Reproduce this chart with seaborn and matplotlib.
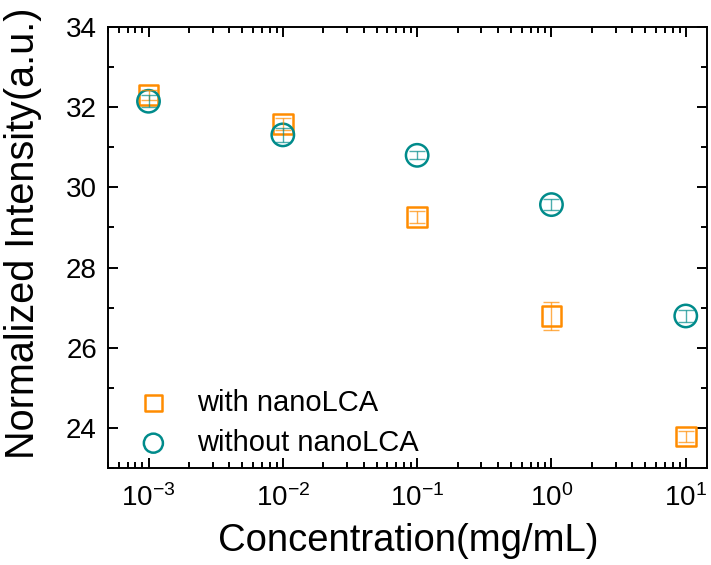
import numpy as np
import pandas as pd
import matplotlib
matplotlib.use("Agg")
import matplotlib.pyplot as plt
import seaborn as sns
from matplotlib.ticker import LogLocator, MultipleLocator, NullFormatter, FuncFormatter

conc = [1e-3, 1e-2, 1e-1, 1e0, 1e1]
with_vals = [32.30, 31.58, 29.26, 26.79, 23.78]
with_err = [0.12, 0.15, 0.14, 0.34, 0.14]
without_vals = [32.15, 31.31, 30.80, 29.57, 26.79]
without_err = [0.15, 0.17, 0.10, 0.14, 0.14]
labels = ["with nanoLCA", "without nanoLCA"]
colors = ["#FF8C00", "#008B8B"]
markers = ["s", "o"]
sizes = [200, 260]

sns.set_style("ticks")
plt.rcParams['font.family'] = ['Liberation Sans', 'DejaVu Sans']
plt.rcParams['mathtext.fontset'] = 'custom'
plt.rcParams['mathtext.rm'] = 'Liberation Sans'
plt.rcParams['mathtext.it'] = 'Liberation Sans'
plt.rcParams['mathtext.default'] = 'regular'
plt.rcParams['text.color'] = 'black'
plt.rcParams['axes.labelcolor'] = 'black'
plt.rcParams['xtick.color'] = 'black'
plt.rcParams['ytick.color'] = 'black'
plt.rcParams['axes.edgecolor'] = 'black'

df = pd.DataFrame({
    "conc": conc * 2,
    "val": with_vals + without_vals,
    "err": with_err + without_err,
    "group": [labels[0]] * 5 + [labels[1]] * 5,
})

fig, ax = plt.subplots(figsize=(7.11, 5.65), dpi=100)
fig.subplots_adjust(left=0.152, right=0.995, top=0.952, bottom=0.172)

for lab, c, m, s in zip(labels, colors, markers, sizes):
    sub = df[df.group == lab]
    sns.scatterplot(data=sub, x="conc", y="val", marker=m, s=s,
                    facecolors="none", edgecolors=c, linewidth=1.8,
                    ax=ax, zorder=3, label=lab)
    ax.errorbar(sub.conc, sub.val, yerr=sub.err, fmt="none", ecolor=c,
                elinewidth=1.0, capsize=6, capthick=1.0, alpha=0.7, zorder=4)

ax.set_xscale("log")
ax.set_xlim(5e-4, 14.5)
ax.set_ylim(23, 34)
ax.yaxis.set_major_locator(MultipleLocator(2))
ax.yaxis.set_minor_locator(MultipleLocator(1))
ax.xaxis.set_major_locator(LogLocator(base=10, numticks=10))
ax.xaxis.set_major_formatter(FuncFormatter(lambda v, p: r"$10^{%d}$" % int(round(np.log10(v)))))
ax.xaxis.set_minor_locator(LogLocator(base=10, subs=np.arange(2, 10), numticks=20))
ax.xaxis.set_minor_formatter(NullFormatter())

ax.tick_params(which="both", direction="in", top=True, right=True, width=1.4)
ax.tick_params(which="major", length=7, labelsize=20)
ax.tick_params(axis="x", which="major", pad=12)
ax.tick_params(axis="y", which="major", pad=8)
ax.tick_params(which="minor", length=4)
for sp in ax.spines.values():
    sp.set_visible(True)
    sp.set_linewidth(1.4)

ax.set_xlabel("Concentration(mg/mL)", fontsize=27.5, labelpad=8)
ax.set_ylabel("Normalized Intensity(a.u.)", fontsize=28.5)
ax.yaxis.set_label_coords(-0.11, 0.533)

handles, labs = ax.get_legend_handles_labels()
ax.legend(handles[:2], labs[:2], loc="lower left", frameon=False, fontsize=21,
          bbox_to_anchor=(-0.012, -0.028), handletextpad=0.5, labelspacing=0.42,
          borderpad=0.3, markerscale=0.85)

fig.savefig("out.png", dpi=100)
